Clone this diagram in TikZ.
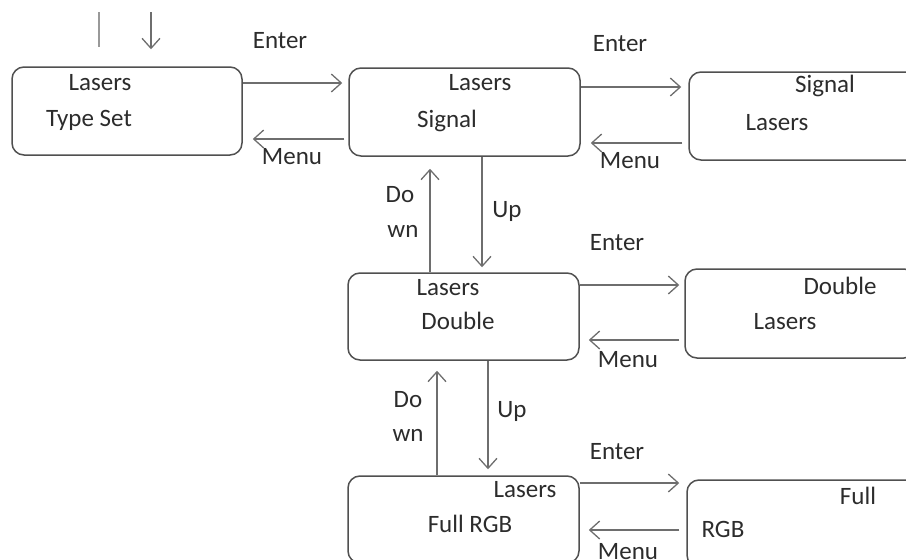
\documentclass[tikz,border=0pt]{standalone}
\usepackage{fontspec}
\setmainfont{Carlito}
\usetikzlibrary{arrows.meta,calc}
\definecolor{linec}{HTML}{505050}
\definecolor{arrc}{HTML}{6E6E6E}
\definecolor{textc}{HTML}{2C2C2C}
\begin{document}
\begin{tikzpicture}[x=1pt,y=-1pt,
  box/.style={draw=linec, line width=1.5pt, rounded corners=12pt, inner sep=0pt, minimum width=231pt},
  lbl/.style={inner sep=0pt, anchor=mid, text=textc, font=\fontsize{25}{30}\selectfont},
  arr/.style={draw=arrc, line width=1.3pt, -{Straight Barb[length=10pt,width=18pt,line width=1.3pt]}},
  plain/.style={draw=arrc!70, line width=1.3pt}]
\useasboundingbox (0,0) rectangle (906,560);
\clip (0,0) rectangle (906,560);
% boxes
\node[box, minimum width=230pt, minimum height=88pt] (b1) at (127,111) {};
\node[box, minimum height=88pt] (b2) at (464.5,112) {};
\node[box, minimum height=88pt] (b3) at (804.5,116) {};
\node[box, minimum height=87pt] (b4) at (463.5,316.5) {};
\node[box, minimum height=89pt] (b5) at (800.5,313.5) {};
\node[box, minimum height=87pt] (b6) at (463.5,519.5) {};
\node[box, minimum height=87pt] (b7) at (802.5,523.5) {};
% box texts
\node[lbl] (t1a) at (100,88) {Lasers};
\node[lbl] (t1b) at (89,124) {Type Set};
\node[lbl] (t2a) at (480,88) {Lasers};
\node[lbl] (t2b) at (447,125) {Signal};
\node[lbl] (t3a) at (825,90) {Signal};
\node[lbl] (t3b) at (777,128) {Lasers};
\node[lbl] (t4a) at (448,293) {Lasers};
\node[lbl] (t4b) at (458,327) {Double};
\node[lbl] (t5a) at (840,292) {Double};
\node[lbl] (t5b) at (785,327) {Lasers};
\node[lbl] (t6a) at (525,495) {Lasers};
\node[lbl] (t6b) at (470,530) {Full RGB};
\node[lbl] (t7a) at (858,502) {Full};
\node[lbl] (t7b) at (723,535) {RGB};
% top incoming marks
\coordinate (in1) at (99,12);
\coordinate (in2) at (151,12);
\draw[plain, shorten >=19pt] (in1) -- (in1 |- b1.north);
\draw[arr, shorten >=17pt] (in2) -- (in2 |- b1.north);
% row 1
\draw[arr, shorten >=6pt] ([yshift=28pt]b1.east) -- ([yshift=28pt]b1.east -| b2.west);
\draw[arr, shorten <=4pt, shorten >=10pt] ([yshift=-28pt]b1.east -| b2.west) -- ([yshift=-28pt]b1.east);
\node[lbl] (e1) at (280,46) {Enter};
\node[lbl] (m1) at (292,162) {Menu};
\draw[arr, shorten >=7pt] ([yshift=25pt]b2.east) -- ([yshift=25pt]b2.east -| b3.west);
\draw[arr, shorten <=6pt, shorten >=10pt] ([yshift=-31pt]b2.east -| b3.west) -- ([yshift=-31pt]b2.east);
\node[lbl] (e2) at (620,49) {Enter};
\node[lbl] (m2) at (630,166) {Menu};
% vertical 1
\draw[arr, shorten >=5pt] ([xshift=17.5pt]b2.south) -- ([xshift=17.5pt]b2.south |- b4.north);
\draw[arr, shorten >=12pt] ([xshift=-33.5pt]b4.north) -- ([xshift=-33.5pt]b4.north |- b2.south);
\node[lbl] (d1a) at (400,200) {Do};
\node[lbl] (d1b) at (403,235) {wn};
\node[lbl] (u1) at (507,215) {Up};
% row 2
\draw[arr, shorten >=5pt] ([yshift=31.5pt]b4.east) -- ([yshift=31.5pt]b4.east -| b5.west);
\draw[arr, shorten <=5pt, shorten >=9pt] ([yshift=-23.5pt]b4.east -| b5.west) -- ([yshift=-23.5pt]b4.east);
\node[lbl] (e3) at (617,248) {Enter};
\node[lbl] (m3) at (628,365) {Menu};
% vertical 2
\draw[arr, shorten >=6pt] ([xshift=24.5pt]b4.south) -- ([xshift=24.5pt]b4.south |- b6.north);
\draw[arr, shorten >=10pt] ([xshift=-26.5pt]b6.north) -- ([xshift=-26.5pt]b6.north |- b4.south);
\node[lbl] (d2a) at (408,405) {Do};
\node[lbl] (d2b) at (408,439) {wn};
\node[lbl] (u2) at (512,415) {Up};
% row 3
\draw[arr, shorten >=7pt] ([yshift=36.5pt]b6.east) -- ([yshift=36.5pt]b6.east -| b7.west);
\draw[arr, shorten <=7pt, shorten >=9pt] ([yshift=-10.5pt]b6.east -| b7.west) -- ([yshift=-10.5pt]b6.east);
\node[lbl] (e4) at (617,457) {Enter};
\node[lbl] (m4) at (628,557) {Menu};
\end{tikzpicture}
\end{document}
